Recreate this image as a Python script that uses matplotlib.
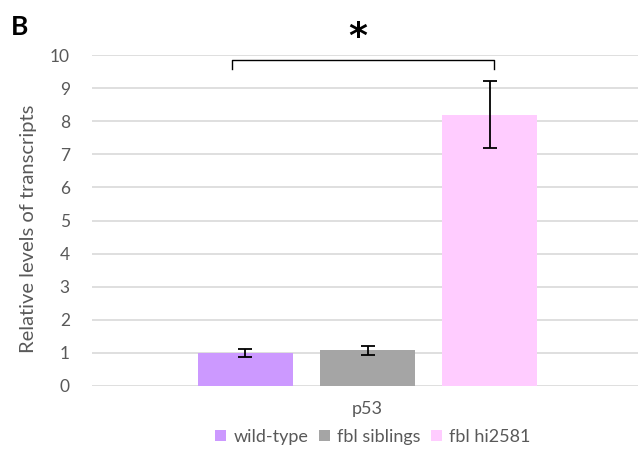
import matplotlib
matplotlib.use("Agg")
import matplotlib.pyplot as plt
from matplotlib.patches import Patch

# Data
genes = ["p53"]
groups = ["wild-type", "fbl siblings", "fbl hi2581"]
values = [1.0, 1.08, 8.2]
errors = [0.13, 0.14, 1.0]
colors = ["#CC99FF", "#A5A5A5", "#FFCCFF"]
yticks = list(range(0, 11))

plt.rcParams["font.family"] = ["Lato", "DejaVu Sans"]

W, H = 638, 450
fig = plt.figure(figsize=(W / 100, H / 100), dpi=100)
ax_left, ax_right = 92, 638
ax_top, ax_bottom = 55, 386
ax = fig.add_axes([ax_left / W, 1 - ax_bottom / H,
                   (ax_right - ax_left) / W, (ax_bottom - ax_top) / H])

positions = list(range(len(groups)))
bar_w = 0.78
ax.bar(positions, values, width=bar_w, color=colors, zorder=2)
ax.errorbar(positions, values, yerr=errors, fmt="none", ecolor="black",
            elinewidth=1.3, capsize=5, capthick=1.3, zorder=3)

ax.set_ylim(0, 10)
ax.set_xlim(-1.258, 3.217)
ax.set_yticks(yticks)
ax.set_yticklabels([str(t) for t in yticks], color="#595959", fontsize=12.5)
ax.tick_params(axis="y", length=0, pad=16)
ax.set_xticks([])
for s in ax.spines.values():
    s.set_visible(False)
ax.yaxis.grid(True, color="#D9D9D9", linewidth=1.2, zorder=0)
ax.set_axisbelow(True)

ax.set_ylabel("Relative levels of transcripts", color="#595959", fontsize=14.5)
ax.yaxis.set_label_coords(-(92 - 37) / (ax_right - ax_left), 0.476)

# category label under the group
ax.text(1, -0.07, genes[0], transform=ax.get_xaxis_transform(),
        ha="center", va="center", color="#595959", fontsize=13)

# significance bracket between wild-type and fbl hi2581
bx0 = (231.7 - ax_left) / 122 - 1.258
bx1 = (494 - ax_left) / 122 - 1.258
by, bt = 9.85, 9.58
ax.plot([bx0, bx0, bx1, bx1], [bt, by, by, bt], color="black", lw=1.0,
        clip_on=False, zorder=4)
fig.text(358 / W, 1 - 37 / H, "*", ha="center", va="center",
         fontsize=26, fontweight="bold", family="DejaVu Sans")

fig.text(11 / W, 1 - 27 / H, "B", fontsize=19, fontweight="bold",
         ha="left", va="center")

handles = [Patch(facecolor=c, edgecolor="none") for c in colors]
fig.legend(handles, groups, loc="center", bbox_to_anchor=(373 / W, 1 - 437 / H),
           ncol=3, frameon=False, fontsize=13, handlelength=0.6,
           handleheight=0.6, handletextpad=0.4, columnspacing=0.6,
           labelcolor="#595959")

fig.savefig("out.png", dpi=100)
